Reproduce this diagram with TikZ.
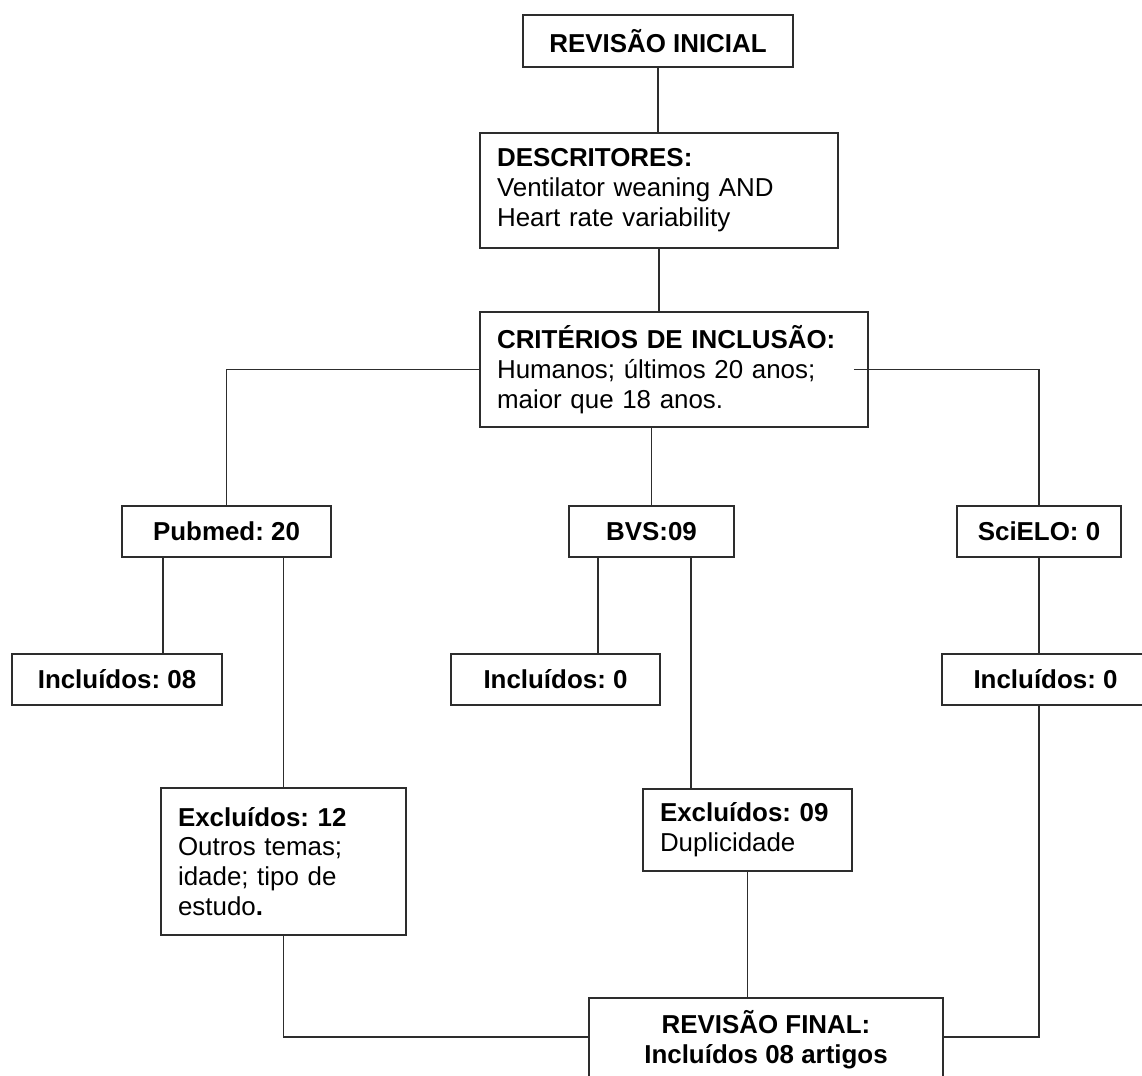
\documentclass[tikz,border=0pt]{standalone}
\usepackage{fontspec}
\setmainfont{Liberation Sans}
\usetikzlibrary{positioning,calc}
\definecolor{lineGray}{RGB}{45,45,45}
\frenchspacing
\tikzset{
  box/.style={draw=lineGray, line width=1.1pt, fill=white, align=center, inner sep=0pt,
              font=\fontsize{14.75}{17}\selectfont\bfseries},
  textbox/.style={box, align=left, inner xsep=0.34cm, font=\fontsize{14.75}{17}\selectfont},
  link/.style={draw=lineGray, line width=1.1pt}
}

\begin{document}
\begin{tikzpicture}[x=0.02cm, y=-0.02cm]
\useasboundingbox (0,0) rectangle (1142,1075);
% topo
\node[box, minimum width=5.4cm, minimum height=1.04cm] (ini) at (658,41) {REVISÃO INICIAL};
\node[textbox, text width=6.48cm, minimum height=2.3cm] (desc) at (659,190.5) {\textbf{DESCRITORES:}\\Ventilator weaning AND\\Heart rate variability};
\node[textbox, text width=7.08cm, minimum height=2.3cm] (crit) at (674,369.5) {\textbf{CRITÉRIOS DE INCLUSÃO:}\\Humanos; últimos 20 anos;\\maior que 18 anos.};
% bases
\node[box, minimum width=4.18cm, minimum height=1.02cm] (pub) at (226.5,531.5) {Pubmed: 20};
\node[box, minimum width=3.3cm, minimum height=1.02cm] (bvs) at (651.5,531.5) {BVS:09};
\node[box, minimum width=3.28cm, minimum height=1.02cm] (sci) at (1039,531.5) {SciELO: 0};
% incluidos
\node[box, minimum width=4.2cm, minimum height=1.02cm] (incpub) at (117,679.5) {Incluídos: 08};
\node[box, minimum width=4.18cm, minimum height=1.02cm] (incbvs) at (555.5,679.5) {Incluídos: 0};
\node[box, minimum width=4.14cm, minimum height=1.02cm] (incsci) at (1045.5,679.5) {Incluídos: 0};
% excluidos
\node[textbox, text width=4.22cm, minimum height=2.94cm] (excpub) at (283.5,861.5) {\textbf{Excluídos: 12}\\Outros temas;\\idade; tipo de\\estudo\textbf{.}};
\node[textbox, text width=3.5cm, minimum height=1.64cm] (excbvs) at (747.5,830) {\textbf{Excluídos: 09}\\Duplicidade};
% final
\node[box, anchor=north, minimum width=7.08cm, inner ysep=7pt] (fin) at (766,997) {REVISÃO FINAL:\\Incluídos 08 artigos};

\draw[link] (ini.south) -- (ini.south |- desc.north);
\draw[link] (desc.south) -- (desc.south |- crit.north);
\draw[link] (crit.west) -| (pub.north);
\draw[link] ($(crit.east)+(-15,0)$) -| (sci.north);
\draw[link] (bvs.north |- crit.south) -- (bvs.north);
\coordinate (pubL) at ($(pub.south west)!0.2!(pub.south east)$);
\coordinate (bvsL) at ($(bvs.south west)!0.18!(bvs.south east)$);
\coordinate (bvsR) at ($(bvs.south west)!0.735!(bvs.south east)$);
\draw[link] (pubL) -- (pubL |- incpub.north);
\draw[link] (pub.south -| excpub.north) -- (excpub.north);
\draw[link] (bvsL) -- (bvsL |- incbvs.north);
\draw[link] (bvsR) -- (bvsR |- excbvs.north);
\draw[link] (sci.south) -- (sci.south |- incsci.north);
\coordinate (finW) at ($(fin.north west)+(0,40)$);
\coordinate (finE) at ($(fin.north east)+(0,40)$);
\draw[link] (excpub.south) |- (finW);
\draw[link] (excbvs.south) -- (excbvs.south |- fin.north);
\draw[link] (incsci.south -| sci.south) |- (finE);
\end{tikzpicture}
\end{document}
